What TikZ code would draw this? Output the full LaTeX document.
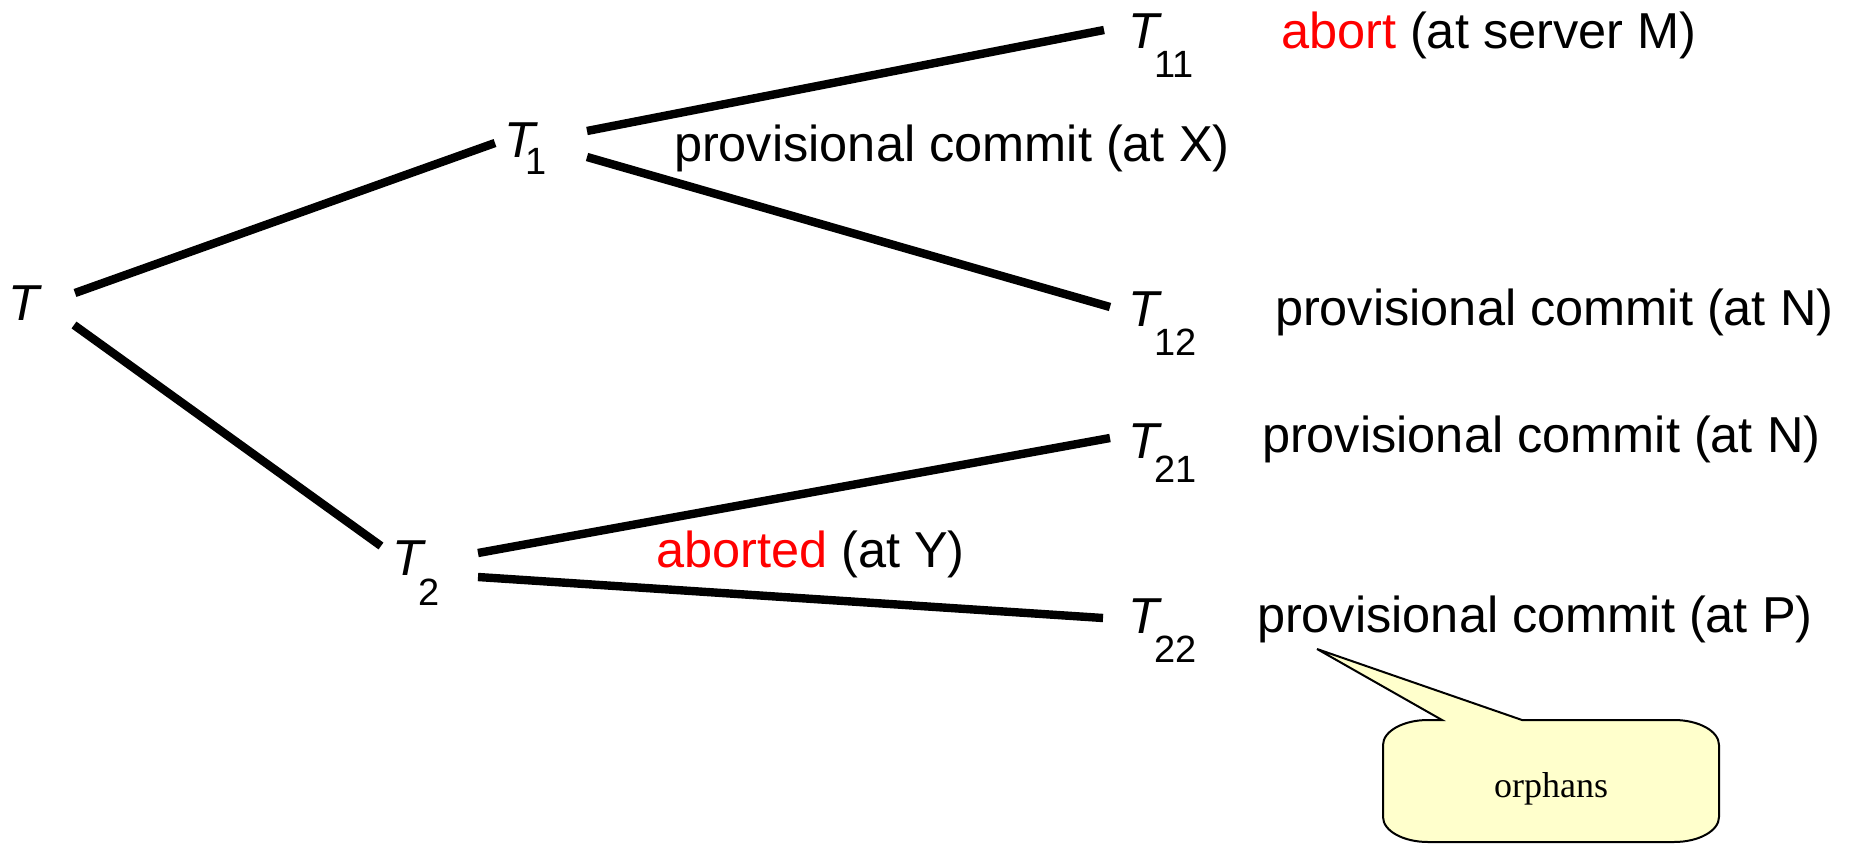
\documentclass[tikz,border=0pt]{standalone}
\usepackage{fontspec}
\setmainfont{Liberation Sans}
\newfontfamily\calloutfont{Liberation Serif}
\usetikzlibrary{calc}
\definecolor{noteyellow}{HTML}{FFFFCC}
\definecolor{abortred}{HTML}{FF0000}
% transaction name: italic T with a lowered subscript
\newcommand\tsub[3]{{\itshape T}\kern#1\raisebox{-#2}{\fontsize{19}{19}\selectfont #3}}

\begin{document}
\begin{tikzpicture}[x=0.5pt,y=-0.5pt,
  every node/.style={inner sep=0pt, outer sep=0pt, anchor=base west,
                     font=\fontsize{25.25}{30}\selectfont},
  branch/.style={line width=4.2pt},
  callout/.style={draw=black, line width=1pt, fill=noteyellow, line join=miter}]
\useasboundingbox (0,0) rectangle (1851,845);

% transactions
\node (t)   at (9,320)    {{\itshape T}};
\node (t1)  at (504,158)  {\tsub{-4.5pt}{8.5pt}{1}};
\node (t2)  at (392,575)  {\tsub{-2.4pt}{15pt}{2}};
\node (t11) at (1128,49)  {\tsub{-2.4pt}{14.5pt}{11}};
\node (t12) at (1128,326) {\tsub{-2.4pt}{14.5pt}{12}};
\node (t21) at (1128,458) {\tsub{-2.4pt}{12pt}{21}};
\node (t22) at (1128,633) {\tsub{-2.4pt}{14.5pt}{22}};

% status labels
\node (l1)  at (674,162)  {provisional commit (at X)};
\node (l2)  at (656,567)  {\textcolor{abortred}{aborted} (at Y)};
\node (l11) at (1281,49)  {\textcolor{abortred}{abort} (at server M)};
\node (l12) at (1275,325) {provisional commit (at N)};
\node (l21) at (1262,452) {provisional commit (at N)};
\node (l22) at (1257,632) {provisional commit (at P)};

% tree branches
\draw[branch] ($(t.base west)+(66,-27)$)  -- ($(t1.base west)+(-9,-15)$);
\draw[branch] ($(t.base west)+(65,5)$)    -- ($(t2.base west)+(-11,-29)$);
\draw[branch] ($(t1.base west)+(83,-27)$) -- ($(t11.base west)+(-24,-19)$);
\draw[branch] ($(t1.base west)+(83,-1)$)  -- ($(t12.base west)+(-18,-19)$);
\draw[branch] ($(t2.base west)+(86,-22)$) -- ($(t21.base west)+(-18,-20)$);
\draw[branch] ($(t2.base west)+(86,2)$)   -- ($(t22.base west)+(-25,-15)$);

% speech-bubble note (y grows downward, so arc angles run clockwise on the page)
\coordinate (tip) at ($(l22.base west)+(60,17)$);
\path[callout] (tip) -- (1522,720) -- (1674,720)
  arc[start angle=-90, end angle=0, x radius=45, y radius=25] -- (1719,817)
  arc[start angle=0, end angle=90, x radius=45, y radius=25] -- (1428,842)
  arc[start angle=90, end angle=180, x radius=45, y radius=25] -- (1383,745)
  arc[start angle=180, end angle=270, x radius=45, y radius=25] -- (1442,720) -- cycle;
\node[anchor=base, font=\calloutfont\fontsize{18}{20}\selectfont] (note) at (1551,797) {orphans};
\end{tikzpicture}
\end{document}
